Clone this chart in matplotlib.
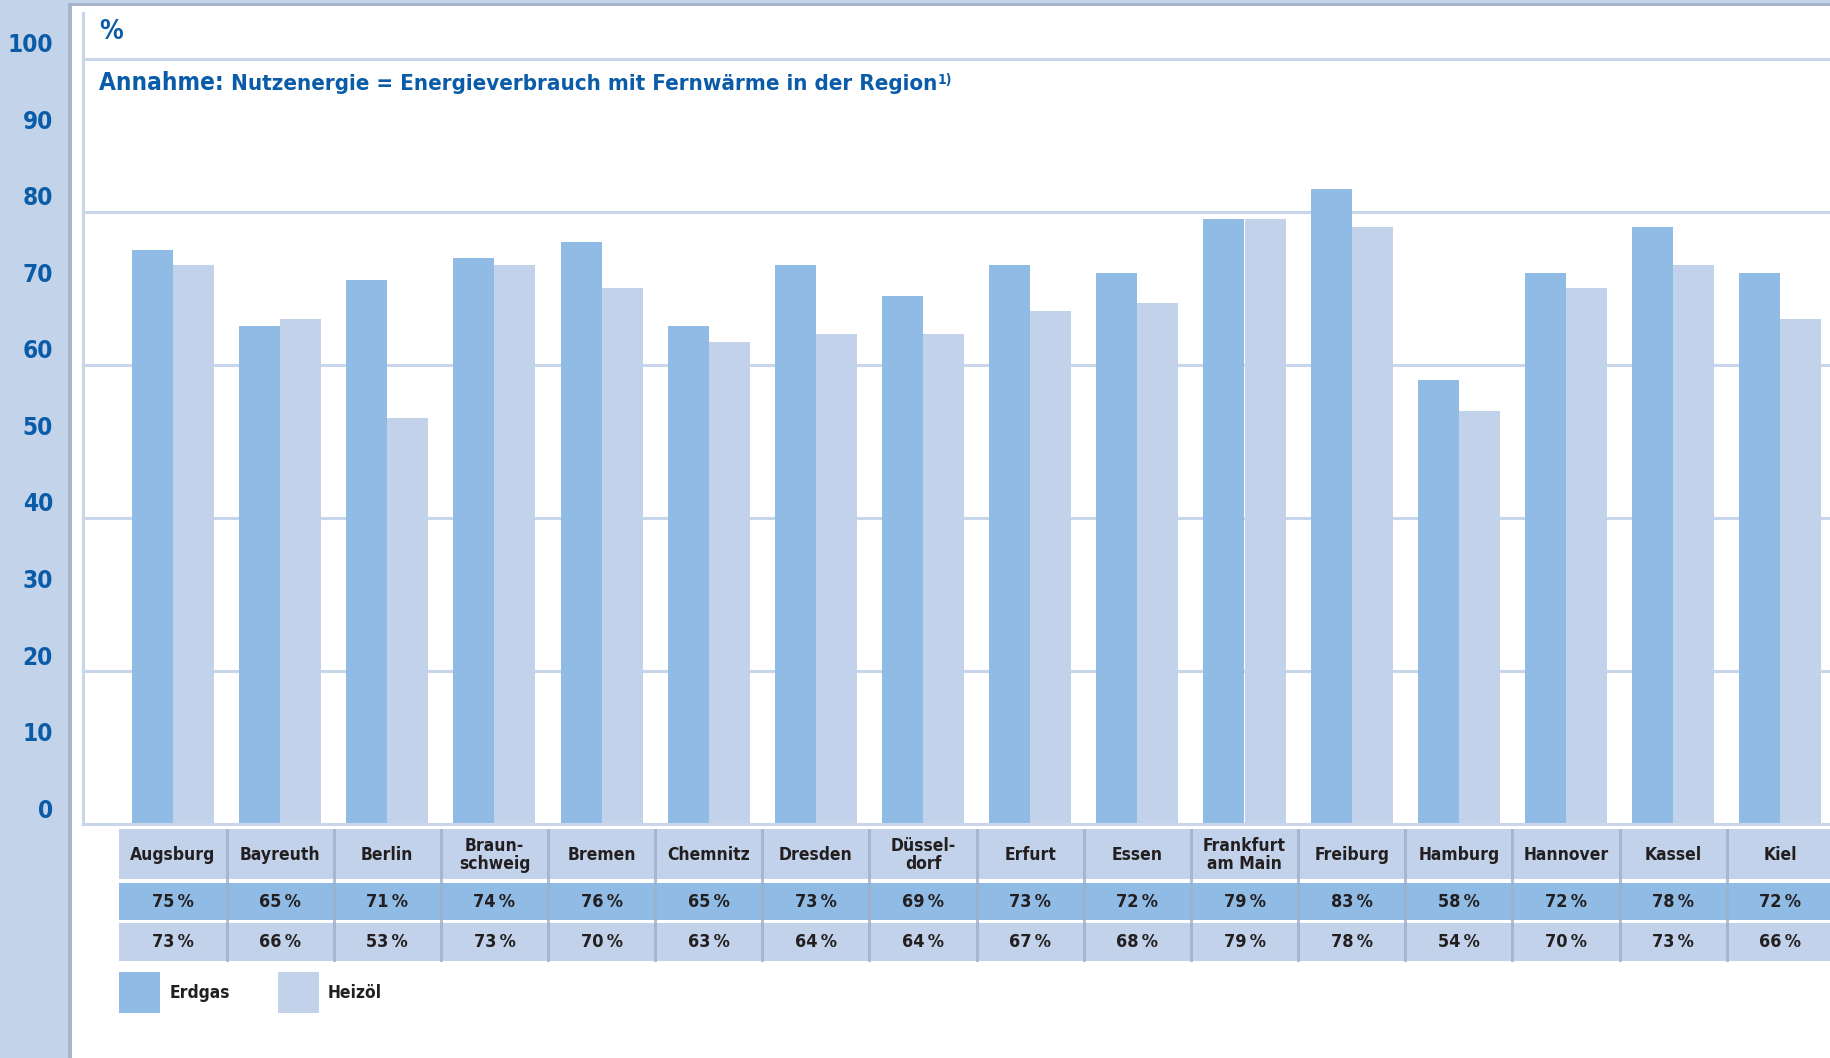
import matplotlib
matplotlib.use('Agg')
import matplotlib.pyplot as plt
from matplotlib.patches import Rectangle
from matplotlib.transforms import blended_transform_factory

# Werte aus der Grafik
cities = ['Augsburg', 'Bayreuth', 'Berlin', 'Braun-\nschweig', 'Bremen', 'Chemnitz',
          'Dresden', 'Düssel-\ndorf', 'Erfurt', 'Essen', 'Frankfurt\nam Main', 'Freiburg',
          'Hamburg', 'Hannover', 'Kassel', 'Kiel']
erdgas = [75, 65, 71, 74, 76, 65, 73, 69, 73, 72, 79, 83, 58, 72, 78, 72]
heizoel = [73, 66, 53, 73, 70, 63, 64, 64, 67, 68, 79, 78, 54, 70, 73, 66]
yticks = [0, 10, 20, 30, 40, 50, 60, 70, 80, 90, 100]
gridvals = [20, 40, 60, 80, 100]
series_names = ['Erdgas', 'Heizöl']

W, H = 1830, 1058
plt.rcParams['font.family'] = ['DejaVu Sans']
plt.rcParams['font.stretch'] = 'condensed'
plt.rcParams['font.weight'] = 'bold'

c_gas = '#8fbbe5'
c_oil = '#c2d2ea'
c_strip = '#c3d3e9'
c_line = '#a7b5cb'
c_grid = '#c8d6eb'
c_blue = '#0b5ca8'
c_text = '#231f20'

fig = plt.figure(figsize=(W / 100, H / 100), dpi=100)


def frect(x0, y0, x1, y1, color):
    # rectangle in pixel coordinates (origin top left)
    fig.add_artist(Rectangle((x0 / W, 1 - y1 / H), (x1 - x0) / W, (y1 - y0) / H,
                             transform=fig.transFigure, color=color, lw=0, zorder=0))


# Rahmen links und oben
frect(0, 0, 68, H, c_strip)
frect(68, 0, 72, H, c_line)
frect(68, 0, W, 3, c_strip)
frect(68, 3, W, 6, c_line)

# Hauptdiagramm
x_left, x_right, y_top, y_base = 83, 1830, 13, 824
px_unit = (y_base - 58.5) / 100.0
c0, step = 173.0, 107.15
ax = fig.add_axes([x_left / W, 1 - y_base / H, (x_right - x_left) / W, (y_base - y_top) / H])
ax.set_xlim((x_left - c0) / step, (x_right - c0) / step)
ax.set_ylim(0, (y_base - y_top) / px_unit)
ax.set_facecolor('none')
for s in ['top', 'right']:
    ax.spines[s].set_visible(False)
for s in ['left', 'bottom']:
    ax.spines[s].set_color(c_grid)
    ax.spines[s].set_linewidth(2.2)
ax.set_xticks([])
ax.set_yticks([])
for g in gridvals:
    ax.axhline(g, color=c_grid, lw=2.2, zorder=1)

bw = 41 / step
xs = list(range(len(cities)))
ax.bar([x - bw / 2 for x in xs], erdgas, bw, color=c_gas, zorder=2)
ax.bar([x + bw / 2 for x in xs], heizoel, bw, color=c_oil, zorder=2)

trans = blended_transform_factory(fig.transFigure, ax.transData)
for t in yticks:
    ax.text(53 / W, t + 1.75, str(t), transform=trans, ha='right', va='center',
            fontsize=17.5, color=c_blue, clip_on=False)

# Titel
fig.text(99 / W, 1 - 32 / H, '%', fontsize=19, color=c_blue, ha='left', va='center')
t1 = fig.text(99 / W, 1 - 83 / H, 'Annahme: ', fontsize=17.5, color=c_blue, ha='left', va='center')
fig.canvas.draw()
r = fig.canvas.get_renderer()
bb = t1.get_window_extent(r)
t2 = fig.text(bb.x1 / W, 1 - 84 / H, 'Nutzenergie = Energieverbrauch mit Fernwärme in der Region',
              fontsize=16, color=c_blue, ha='left', va='center')
bb = t2.get_window_extent(r)
fig.text(bb.x1 / W, 1 - 80 / H, '1)', fontsize=10, color=c_blue, ha='left', va='center')

# Tabelle
tax = fig.add_axes([x_left / W, 1 - 962 / H, (x_right - x_left) / W, (962 - 829) / H])
tax.set_xlim(ax.get_xlim())
tax.set_ylim(962, 829)
tax.axis('off')
rows = [(829, 879, c_oil), (883, 920, c_gas), (923, 961, c_oil)]
n = len(cities)
for y0, y1, col in rows:
    tax.add_patch(Rectangle((-0.5, y0), n + 1, y1 - y0, color=col, lw=0))
for i in range(n):
    tax.plot([i + 0.5, i + 0.5], [829, 961], color='#9fb0c9', lw=2.2, alpha=0.8)
for i, c in enumerate(cities):
    tax.text(i, 855, c, ha='center', va='center', fontsize=12.5, color=c_text, linespacing=0.95)
    tax.text(i, 902, '%d\u2009%%' % erdgas[i], ha='center', va='center', fontsize=13, color=c_text)
    tax.text(i, 942, '%d\u2009%%' % heizoel[i], ha='center', va='center', fontsize=13, color=c_text)

# Legende
frect(119, 972, 160, 1013, c_gas)
frect(278, 972, 319, 1013, c_oil)
fig.text(170 / W, 1 - 993 / H, series_names[0], fontsize=12.5, color=c_text, va='center')
fig.text(328 / W, 1 - 993 / H, series_names[1], fontsize=12.5, color=c_text, va='center')

fig.savefig('out.png', dpi=100)
